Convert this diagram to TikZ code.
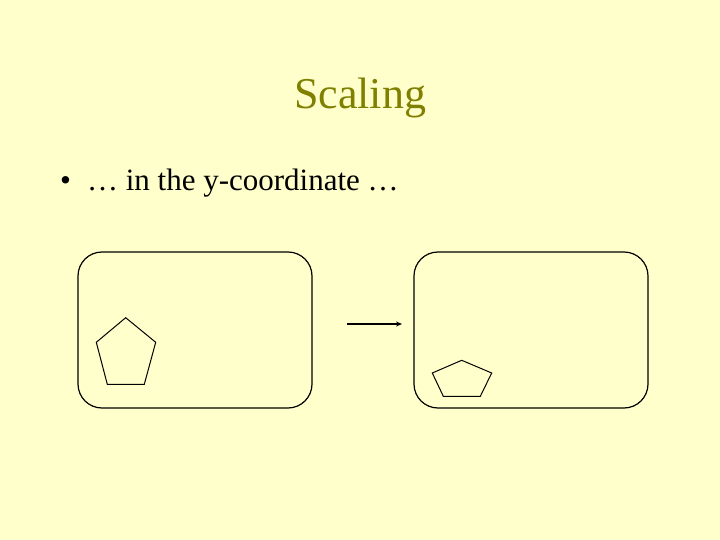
\documentclass[tikz,border=0pt]{standalone}
\usepackage{fontspec}
\setmainfont{Liberation Serif}
\usetikzlibrary{arrows.meta}
\definecolor{slidebg}{HTML}{FFFFCC}
\definecolor{titleolive}{HTML}{808000}
\tikzset{
  frame/.style={draw, rounded corners=24pt, minimum width=234pt, minimum height=156pt, inner sep=0pt, line width=1.2pt},
  pentagon/.style={draw, line width=1pt, line join=miter}
}
\begin{document}
\begin{tikzpicture}[x=1pt,y=-1pt]
% фон
                \fill [slidebg] ( 0, 0 ) rectangle ( 720, 540 );
                \useasboundingbox ( 0, 0 ) rectangle ( 720, 540 );
% заголовок
                \node [titleolive, font=\fontsize{44}{48}\selectfont, anchor=base] (title) at ( 360, 109 ) {Scaling};
                \node [font=\fontsize{31}{36}\selectfont, anchor=base west, inner sep=0pt] (item) at ( 60, 191 ) {•\hspace{16pt}… in the y-coordinate …};

% рамки
                \node [frame] (before) at ( 195, 330 ) {};
                \node [frame] (after) at ( 531, 330 ) {};
% стрелка
                \coordinate (from) at ( 347, 324 );
                \coordinate (to) at ( 402, 324 );
                \draw [-{Stealth[length=6pt,width=5pt]}, line width=1.5pt] (from) -- (to);
% пятиугольники
                \draw [pentagon] ( 125.7, 317.7 ) -- ( 155.7, 342.3 ) -- ( 144.3, 384.3 ) -- ( 107.3, 384.3 ) -- ( 96.3, 342.3 ) -- cycle;
                \draw [pentagon] ( 461.7, 360.3 ) -- ( 491.7, 373 ) -- ( 480.3, 396.3 ) -- ( 443.3, 396.3 ) -- ( 432.3, 373 ) -- cycle;
            \end{tikzpicture}
\end{document}
